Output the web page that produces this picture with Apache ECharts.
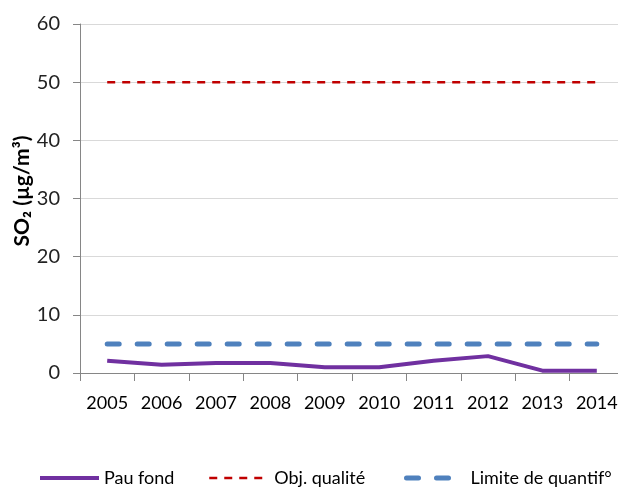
<!DOCTYPE html>
<html>
<head>
<meta charset="utf-8">
<script src="https://cdn.jsdelivr.net/npm/echarts@6/dist/echarts.min.js"></script>
<style>
  html, body { margin: 0; padding: 0; background: #fff; overflow: hidden; }
  #chart { width: 640px; height: 489px; }
</style>
</head>
<body>
<div id="chart"></div>
<script>
// SO2 annual means at the Pau background station, with reference thresholds
const years = ['2005', '2006', '2007', '2008', '2009', '2010', '2011', '2012', '2013', '2014'];
const pauFond = [2.1, 1.4, 1.7, 1.7, 1.0, 1.0, 2.1, 2.9, 0.4, 0.4];
const objQualite = [50, 50, 50, 50, 50, 50, 50, 50, 50, 50];
const limiteQuantif = [5, 5, 5, 5, 5, 5, 5, 5, 5, 5];
const yTicks = { min: 0, max: 60, interval: 10 };

const FONT = 'Lato, "Open Sans", sans-serif';
const chart = echarts.init(document.getElementById('chart'), null, { renderer: 'canvas' });

const legendText = { fontFamily: FONT, fontSize: 18, color: '#000' };
function legendItem(left, name, iconWidth, lineStyle, textPad) {
  return {
    left: left, top: 469, padding: 0, data: [name],
    itemWidth: iconWidth, itemHeight: 14,
    itemStyle: { opacity: 0 },
    lineStyle: lineStyle,
    textStyle: Object.assign({}, legendText, { padding: [0, 0, 0, textPad] })
  };
}

chart.setOption({
  animation: false,
  grid: { left: 80, top: 24, width: 544, bottom: 116, containLabel: false },
  legend: [
    legendItem(38, 'Pau fond', 59, { color: '#7030a0', width: 4 }, 0),
    legendItem(208, 'Obj. qualité', 54, { color: '#c00000', width: 2.5, type: [8, 7] }, 6),
    legendItem(404, 'Limite de quantif°', 44, { color: '#4f81bd', width: 5, type: [12, 18], cap: 'round' }, 15)
  ],
  graphic: [{
    type: 'text',
    x: 22, y: 191, rotation: Math.PI / 2,
    style: {
      text: 'SO₂ (µg/m³)',
      font: 'bold 21px ' + FONT,
      fill: '#000', align: 'center', verticalAlign: 'middle'
    }
  }],
  xAxis: {
    type: 'category',
    data: years,
    boundaryGap: true,
    axisLine: { lineStyle: { color: '#868686', width: 1 } },
    axisTick: { show: true, length: 8, lineStyle: { color: '#868686' } },
    axisLabel: { fontFamily: FONT, fontSize: 18, color: '#000', margin: 21 },
    splitLine: { show: false }
  },
  yAxis: {
    type: 'value',
    min: yTicks.min, max: yTicks.max, interval: yTicks.interval,
    axisLine: { show: true, lineStyle: { color: '#868686', width: 1 } },
    axisTick: { show: true, length: 7, lineStyle: { color: '#868686' } },
    axisLabel: { fontFamily: FONT, fontSize: 20, color: '#222', margin: 20 },
    splitLine: { show: true, lineStyle: { color: '#d9d9d9', width: 1 } }
  },
  series: [
    {
      name: 'Pau fond', type: 'line', data: pauFond,
      symbol: 'none', showSymbol: false,
      lineStyle: { color: '#7030a0', width: 4 },
      itemStyle: { color: '#7030a0' }, z: 3
    },
    {
      name: 'Obj. qualité', type: 'line', data: objQualite,
      symbol: 'none', showSymbol: false,
      lineStyle: { color: '#c00000', width: 2.5, type: [8, 7] },
      itemStyle: { color: '#c00000' }, z: 2
    },
    {
      name: 'Limite de quantif°', type: 'line', data: limiteQuantif,
      symbol: 'none', showSymbol: false,
      lineStyle: { color: '#4f81bd', width: 5, type: [12, 18], cap: 'round' },
      itemStyle: { color: '#4f81bd' }, z: 2
    }
  ]
});
</script>
</body>
</html>
